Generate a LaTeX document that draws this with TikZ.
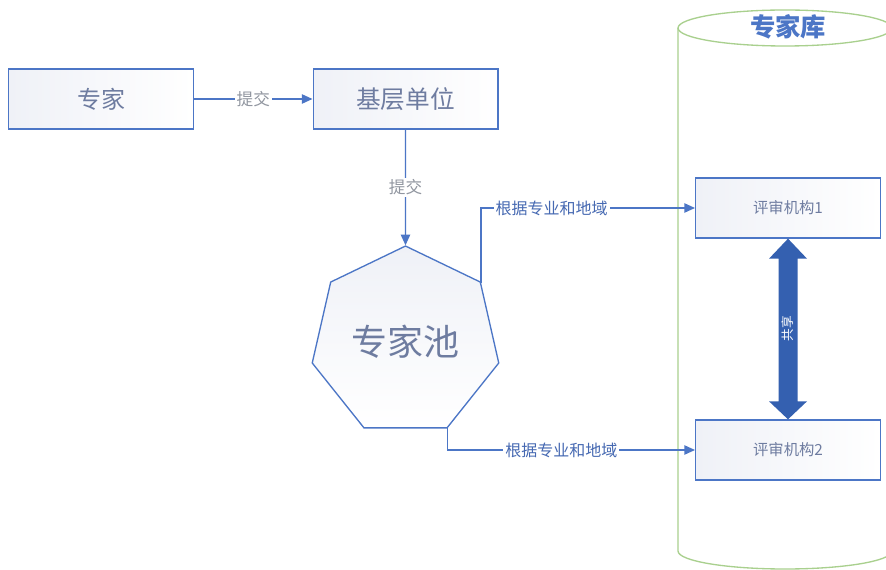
\documentclass[tikz,border=0pt]{standalone}
\usepackage{fontspec}
\setmainfont{Noto Sans CJK SC}
\usetikzlibrary{shapes.geometric,arrows.meta,calc}
\definecolor{lineblue}{RGB}{76,118,198}
\definecolor{boxtext}{RGB}{110,124,160}
\definecolor{greytext}{RGB}{145,150,160}
\definecolor{lblblue}{RGB}{70,105,178}
\definecolor{darkarrow}{RGB}{52,96,176}
\definecolor{cylgreen}{RGB}{169,208,142}
\definecolor{boxshade}{RGB}{239,241,247}
\tikzset{
  proc/.style={draw=lineblue, line width=1pt, left color=boxshade, right color=white,
    minimum width=138.5pt, minimum height=45pt, inner sep=0pt, text=boxtext},
  conn/.style={draw=lineblue, line width=1.1pt, -{Triangle[length=8pt,width=7pt]}},
  greylbl/.style={fill=white, text=greytext, font=\fontsize{12.5pt}{14pt}\selectfont, inner sep=1.5pt},
  bluelbl/.style={fill=white, text=lblblue, font=\fontsize{12pt}{14pt}\selectfont, inner sep=1.5pt},
}
\begin{document}
\begin{tikzpicture}[x=0.75pt,y=-0.75pt]
\useasboundingbox[fill=white] (0,0) rectangle (886,570);
% cylinder
\draw[cylgreen, line width=1pt, fill=white] (678,28) -- (678,551)
  arc[start angle=180,end angle=360,x radius=80.25pt,y radius=13.5pt] -- (892,28);
\draw[cylgreen, line width=1pt, fill=white] (785,28) ellipse [x radius=80.25pt, y radius=13.5pt];
\node[text=lineblue, font=\fontsize{19pt}{22pt}\selectfont\bfseries] (lib) at (788,27) {专家库};
% boxes
\node[proc, font=\fontsize{18pt}{20pt}\selectfont] (e) at (101,99) {专家};
\node[proc, font=\fontsize{18.5pt}{20pt}\selectfont] (b) at (405.5,99) {基层单位};
\node[regular polygon, regular polygon sides=7, minimum size=143.5pt, inner sep=0pt,
  draw=lineblue, line width=1pt, top color=boxshade, bottom color=white, text=boxtext,
  font=\fontsize{27pt}{30pt}\selectfont] (pool) at (405.5,341.7) {专家池};
\node[proc, font=\fontsize{11.5pt}{13pt}\selectfont] (r1) at (788,208) {评审机构1};
\node[proc, font=\fontsize{11.5pt}{13pt}\selectfont] (r2) at (788,450) {评审机构2};
% connectors
\draw[conn] (e.east) -- node[greylbl] (l1) {提交} (b.west);
\draw[conn] (b.south) -- node[greylbl] (l2) {提交} (pool.north);
\draw[conn] (pool.38.57) |- node[bluelbl, pos=0.665] (l3) {根据专业和地域} (r1.west);
\draw[conn] (pool.-64.29) |- node[bluelbl, pos=0.73] (l4) {根据专业和地域} (r2.west);
% double arrow
\fill[darkarrow] (r1.south) -- ($(r1.south)+(19,20)$) -- ($(r1.south)+(9.5,20)$)
  -- ($(r2.north)+(9.5,-18)$) -- ($(r2.north)+(19,-18)$) -- (r2.north)
  -- ($(r2.north)+(-19,-18)$) -- ($(r2.north)+(-9.5,-18)$)
  -- ($(r1.south)+(-9.5,20)$) -- ($(r1.south)+(-19,20)$) -- cycle;
\node[rotate=90, text=white, font=\fontsize{9.5pt}{10pt}\selectfont, inner sep=0pt] (share)
  at ($(r1.south)!0.5!(r2.north)$) {共享};
\end{tikzpicture}
\end{document}
